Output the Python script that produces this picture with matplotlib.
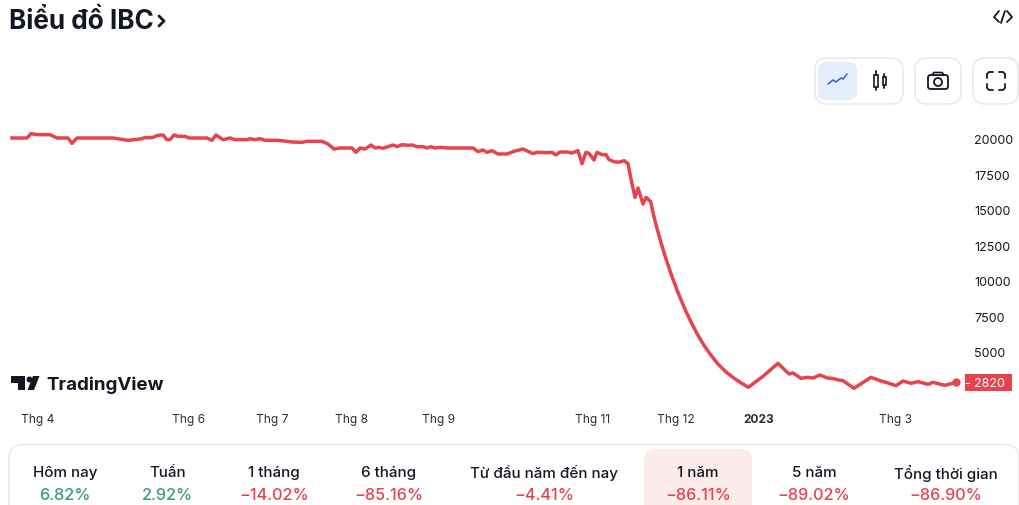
#IBC price chart, 1 year view
import matplotlib
matplotlib.use("Agg")
import matplotlib.pyplot as plt
from matplotlib.patches import FancyBboxPatch, Circle, Polygon, Rectangle

plt.rcParams['font.family'] = ['Inter', 'DejaVu Sans']

TEXT = "#131722"
RED = "#e5444d"
GREEN = "#3c9a7c"
BORDER = "#e6e8f0"

#time position of each sample along the axis
t = [12, 27, 31, 37, 50, 57, 68, 72, 77, 113, 128, 140, 145, 152, 158, 163, 167, 170, 174, 178,
     185, 189, 207, 212, 216, 223, 230, 235, 247, 250, 255, 260, 265, 278, 292, 302, 307, 322, 328, 334,
     340, 352, 356, 360, 365, 371, 375, 379, 383, 393, 397, 402, 408, 412, 417, 423, 427, 431, 435, 440,
     447, 473, 478, 483, 487, 492, 498, 507, 514, 523, 533, 537, 547, 552, 556, 560, 567, 572, 578, 582,
     586, 589, 594, 597, 602, 606, 609, 615, 620, 624, 628, 631, 635, 638, 643, 646, 650.7, 653.3, 656.7, 661.7,
     665.7, 670, 674, 678.3, 682.3, 686.7, 691.7, 696.7, 701.7, 706.7, 712.3, 718.3, 725.7, 733.3, 740.7, 748.3, 763, 778, 789,
     793, 801, 807, 813, 820, 827, 832, 837, 843, 854, 871, 880, 888, 896, 903, 911, 918, 928, 933, 938,
     945, 956]
price = [20071, 20071, 20377, 20306, 20306, 20071, 20071, 19694, 20071, 20071, 19906, 20000, 20094, 20094, 20259, 20283, 19953, 19953, 20283, 20188,
         20188, 20071, 20071, 19906, 20283, 19953, 20071, 19953, 19953, 20024, 19953, 20024, 19906, 19906, 19788, 19765, 19835, 19835, 19647, 19294,
         19365, 19365, 19059, 19365, 19294, 19577, 19365, 19412, 19341, 19577, 19459, 19600, 19553, 19577, 19459, 19459, 19365, 19459, 19365, 19412,
         19365, 19365, 19106, 19224, 19059, 19177, 18941, 18941, 19130, 19294, 18965, 19059, 19035, 19059, 18871, 19083, 19083, 19012, 19177, 18259,
         19059, 18988, 18518, 19059, 18894, 18894, 18541, 18377, 18377, 18471, 18259, 17176, 15882, 16541, 15411, 15882, 15576, 14705, 13764, 12517,
         11599, 10682, 9905, 9105, 8423, 7717, 6987, 6304, 5693, 5152, 4611, 4093, 3576, 3152, 2799, 2470, 3245, 4162, 3409,
         3480, 3103, 3174, 3127, 3339, 3127, 3103, 3009, 2939, 2398, 3174, 2939, 2774, 2586, 2915, 2750, 2868, 2680, 2821, 2727,
         2609, 2821]

y_ticks = [20000, 17500, 15000, 12500, 10000, 7500, 5000]
x_ticks = [38, 189, 272, 352, 439, 593, 676, 759, 896]
x_labels = ["Thg 4", "Thg 6", "Thg 7", "Thg 8", "Thg 9", "Thg 11", "Thg 12", "2023", "Thg 3"]

last_label = "2820"
periods = ["Hôm nay", "Tuần", "1 tháng", "6 tháng", "Từ đầu năm đến nay", "1 năm", "5 năm", "Tổng thời gian"]
changes = ["6.82%", "2.92%", "−14.02%", "−85.16%", "−4.41%", "−86.11%", "−89.02%", "−86.90%"]
period_x = [65, 168, 274, 389, 544, 698, 814, 946]

W, H = 1020, 506
fig = plt.figure(figsize=(W / 100, H / 100), dpi=100)

#page chrome, this axes is in pixels
bg = fig.add_axes([0, 0, 1, 1])
bg.set_xlim(0, W)
bg.set_ylim(H, 0)
bg.axis("off")

def box(x, y, w, h, r, fc="white", ec=BORDER, lw=1.1):
    bg.add_patch(FancyBboxPatch((x + r, y + r), w - 2 * r, h - 2 * r, boxstyle=f"round,pad={r},rounding_size={r}",
                                fc=fc, ec=ec, lw=lw))

def stroke(xs, ys, color=TEXT, lw=1.3):
    bg.plot(xs, ys, color=color, lw=lw, solid_capstyle="round", solid_joinstyle="round")

bg.text(9, 22, "Biểu đồ IBC", fontsize=18.8, fontweight="bold", color=TEXT, va="center", ha="left")
stroke([159, 164, 159], [17, 22, 27], lw=2)

#embed icon
stroke([999, 994, 999], [12, 18, 23])
stroke([1005, 1001], [12, 24])
stroke([1007, 1012, 1007], [12, 18, 23])

#toolbar
box(815, 59, 88, 46, 12)
box(818, 63, 39, 38, 8, fc="#e5eefb", ec="none")
box(915, 59, 46, 46, 12)
box(973, 59, 45, 46, 12)
stroke([828, 833, 836, 841, 843, 847], [85, 81, 83, 79, 80, 75], color="#2f5fd8", lw=1.1)
stroke([876, 876], [72, 91])
bg.add_patch(Rectangle((874, 76), 4, 12, fc="white", ec=TEXT, lw=1.2, zorder=3))
stroke([884.5, 884.5], [75, 89])
bg.add_patch(Rectangle((883, 78), 3, 8, fc="white", ec=TEXT, lw=1.2, zorder=3))

box(928, 76, 20, 14, 2.5, ec=TEXT, lw=1.3)
bg.add_patch(Polygon([(932, 76), (934, 73.5), (942, 73.5), (944, 76)], fc="white", ec=TEXT, lw=1.2))
bg.add_patch(Circle((938, 83), 4, fc="white", ec=TEXT, lw=1.3))

stroke([987, 987, 989, 993], [79, 75, 73, 73])
stroke([999, 1003, 1005, 1005], [73, 73, 75, 79])
stroke([987, 987, 989, 993], [85, 89, 91, 91])
stroke([999, 1003, 1005, 1005], [91, 91, 89, 85])

#stats panel runs off the bottom of the crop
box(9, 445.5, 1010, 90, 14)
box(644, 450, 108, 80, 12, fc="#fcebeb", ec="none")
for x, p, c in zip(period_x, periods, changes):
    bg.text(x, 473, p, fontsize=10.9, fontweight="medium", color=TEXT, ha="center", va="center")
    col = RED if c.startswith("−") else GREEN
    bg.text(x, 496, c, fontsize=11.7, fontweight="medium", color=col, ha="center", va="center")

#price chart, same scale as the picture: 14.17 px per 1000
ax = fig.add_axes([0, (H - 395) / H, 965 / W, 270 / H])
ax.patch.set_alpha(0)
ax.plot(t, price, color=RED, lw=2.5, solid_joinstyle="round")
ax.plot(t[-1], price[-1], "o", color=RED, ms=6, mew=0)
ax.set_xlim(0, 965)
ax.set_ylim(1997, 21059)
for s in ax.spines.values():
    s.set_visible(False)
ax.yaxis.tick_right()
ax.set_yticks(y_ticks)
ax.set_yticklabels([str(v) for v in y_ticks], fontsize=9, color=TEXT)
ax.set_xticks(x_ticks)
ax.set_xticklabels(x_labels, fontsize=8.6, color="#2a2e39")
ax.tick_params(axis="y", length=0, pad=6.5)
ax.tick_params(axis="x", length=0, pad=13.6)
ax.get_xticklabels()[x_labels.index("2023")].set_fontweight("bold")

#last price tag
bg.add_patch(Rectangle((965, 375), 47, 17, fc=RED, ec="none", zorder=5))
bg.text(989, 384, last_label, fontsize=9, color="white", ha="center", va="center", zorder=6)
bg.plot([966, 969], [383.5, 383.5], color="white", lw=0.7, zorder=6)

#TradingView logo
logo = "#131722"
bg.add_patch(Polygon([(11, 377), (25, 377), (25, 391), (18, 391), (18, 384), (11, 384)], fc=logo, ec="none"))
bg.add_patch(Circle((29.5, 380.5), 3, fc=logo, ec="none"))
bg.add_patch(Polygon([(27.5, 391), (33, 377), (39.5, 377), (34, 391)], fc=logo, ec="none"))
bg.text(46, 385, "TradingView", fontsize=13.5, fontweight="bold", color=logo, ha="left", va="center")
bg.set_zorder(1)
ax.set_zorder(0)

fig.savefig("out.png", dpi=100)
